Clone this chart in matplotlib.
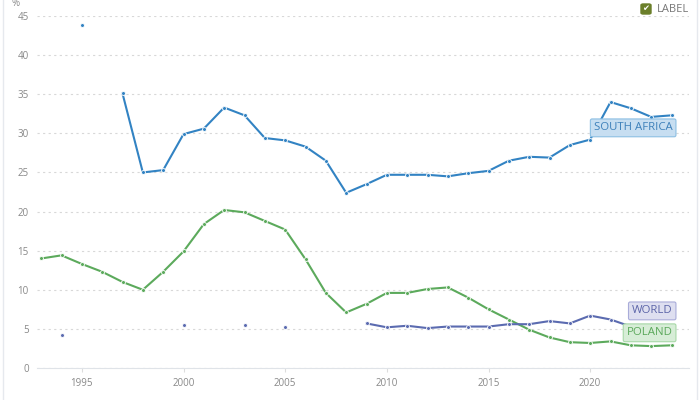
import numpy as np
import matplotlib
matplotlib.use('Agg')
import matplotlib.pyplot as plt
from matplotlib.patches import FancyBboxPatch

plt.rcParams['font.family'] = ['Open Sans', 'DejaVu Sans']

# data (NaN = no value)
years = list(range(1993, 2025))
south_africa = [np.nan, np.nan, 43.8, np.nan, 35.1, 25.0, 25.3, 29.9, 30.6, 33.3,
                32.3, 29.4, 29.1, 28.3, 26.5, 22.4, 23.5, 24.7, 24.7, 24.7,
                24.5, 24.9, 25.2, 26.5, 27.0, 26.9, 28.5, 29.2, 34.0, 33.2,
                32.1, 32.3]
poland = [14.0, 14.4, 13.3, 12.3, 11.0, 10.0, 12.3, 14.9, 18.4, 20.2,
          19.9, 18.8, 17.7, 13.9, 9.6, 7.1, 8.2, 9.6, 9.6, 10.1,
          10.3, 9.0, 7.5, 6.2, 4.9, 3.9, 3.3, 3.2, 3.4, 2.9,
          2.8, 2.9]
world = [np.nan, 4.2, np.nan, np.nan, np.nan, np.nan, np.nan, 5.5, np.nan, np.nan,
         5.5, np.nan, 5.2, np.nan, np.nan, np.nan, 5.7, 5.2, 5.4, 5.1,
         5.3, 5.3, 5.3, 5.6, 5.6, 6.0, 5.7, 6.7, 6.2, 5.3,
         5.0, 5.0]
xticks = [1995, 2000, 2005, 2010, 2015, 2020]
yticks = list(range(0, 50, 5))

c_sa = '#3283c3'
c_pl = '#5caa5c'
c_wd = '#5b6bb0'

fig = plt.figure(figsize=(7, 4), dpi=100)
ax = fig.add_axes([0.053, 0.08, 0.931, 0.88])

for vals, col in [(poland, c_pl), (world, c_wd), (south_africa, c_sa)]:
    ax.plot(years, vals, color=col, lw=1.5, marker='o', ms=2.8,
            mfc=col, mec='white', mew=0.6, zorder=3)

ax.set_xlim(1992.8, 2024.85)
ax.set_ylim(0, 45)
ax.set_xticks(xticks)
ax.set_yticks(yticks)
ax.tick_params(axis='both', labelsize=7, colors='#888888', length=0)
ax.tick_params(axis='x', pad=4, length=3, color='#dddddd')
ax.tick_params(axis='y', pad=6)
ax.grid(axis='y', color='#d8d8d8', ls=(0, (2, 3)), lw=0.8)
ax.set_axisbelow(True)
for s in ['top', 'right', 'left']:
    ax.spines[s].set_visible(False)
ax.spines['bottom'].set_color('#dfe3e8')

fig.text(11 / 700, 1 - 4 / 400, '%', fontsize=7, color='#888888', va='center')

# end labels
labels = [('SOUTH AFRICA', 30.7, '#c7def1', '#8cbfe3', '#3d80ba'),
          ('WORLD', 7.3, '#dedff0', '#a9acd9', '#5b64a8'),
          ('POLAND', 4.5, '#d7edd7', '#a7d8a7', '#5aa85a')]
for txt, yv, fc, ec, tc in labels:
    ax.text(2024.05, yv, txt, ha='right', va='center', fontsize=8.2, color=tc,
            zorder=5, bbox=dict(boxstyle='round,pad=0.3,rounding_size=0.15',
                                fc=fc, ec=ec, lw=0.8))

# "LABEL" toggle top right
fig.patches.append(FancyBboxPatch((641 / 700, 1 - 14 / 400), 10 / 700, 10 / 400,
                                  boxstyle='round,pad=0,rounding_size=0.003',
                                  transform=fig.transFigure, fc='#6b7f2a',
                                  ec='#6b7f2a'))
fig.text(646 / 700, 1 - 9 / 400, '\u2714', fontsize=6, color='white',
         ha='center', va='center', family=['DejaVu Sans'])
fig.text(657 / 700, 1 - 9 / 400, 'LABEL', fontsize=8, color='#777777',
         va='center')

# faint frame lines at the sides
fig.add_artist(plt.Line2D([3 / 700, 3 / 700], [0, 1], color='#e6e9ee', lw=1,
                          transform=fig.transFigure))
fig.add_artist(plt.Line2D([697 / 700, 697 / 700], [0, 1], color='#e6e9ee', lw=1,
                          transform=fig.transFigure))

fig.savefig('out.png', dpi=100)
